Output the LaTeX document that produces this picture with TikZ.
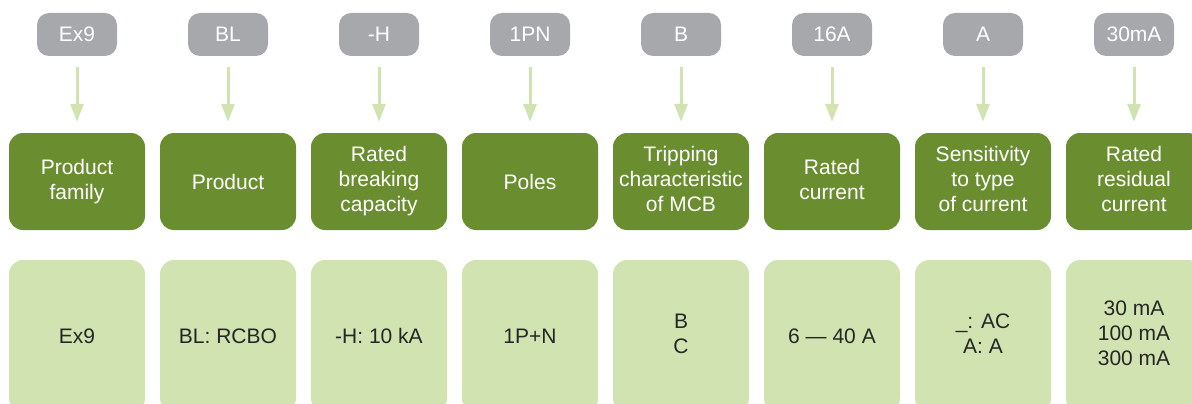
\documentclass[tikz,border=0pt]{standalone}
\usepackage{fontspec}
\setmainfont{Liberation Sans}
\usepackage{tikz}
\usetikzlibrary{arrows.meta,positioning}
\usepackage{xcolor}
\definecolor{codegray}{HTML}{A7A8AC}
\definecolor{headgreen}{HTML}{6A8E2F}
\definecolor{valgreen}{HTML}{D1E3B1}
\definecolor{txtdark}{HTML}{262626}
\newcommand\boxstrut{\rule[-5pt]{0pt}{25pt}}

\begin{document}
\begin{tikzpicture}[x=1pt, y=-1pt,
    every node/.style={font=\fontsize{21}{25}\selectfont, align=center, inner sep=0pt,
        execute at begin node=\boxstrut, execute at end node=\boxstrut},
    codebox/.style={fill=codegray, text=white, rounded corners=12pt, minimum width=80pt, minimum height=43pt},
    headbox/.style={fill=headgreen, text=white, rounded corners=14pt, minimum width=136pt, minimum height=97pt},
    valbox/.style={fill=valgreen, text=txtdark, rounded corners=14pt, minimum width=136pt, minimum height=152pt},
    feed/.style={-{Triangle[width=13pt, length=18pt]}, line width=3pt, draw=valgreen, shorten <=11pt, shorten >=11pt}]

    \clip (0,0) rectangle (1192,404);

    % Code parts
    \node[codebox] (famcode)  at (77,34.5)   {Ex9};
    \node[codebox] (prodcode) at (228,34.5)  {BL};
    \node[codebox] (brkcode)  at (379,34.5)  {-H};
    \node[codebox] (polcode)  at (530,34.5)  {1PN};
    \node[codebox] (tripcode) at (681,34.5)  {B};
    \node[codebox] (curcode)  at (832,34.5)  {16A};
    \node[codebox] (senscode) at (983,34.5)  {A};
    \node[codebox] (rescode)  at (1134,34.5) {30mA};

    % Meaning of each part
    \node[headbox] (famhead)  at (77,181.5)   {Product\\family};
    \node[headbox] (prodhead) at (228,181.5)  {Product};
    \node[headbox] (brkhead)  at (379,181.5)  {Rated\\breaking\\capacity};
    \node[headbox] (polhead)  at (530,181.5)  {Poles};
    \node[headbox] (triphead) at (681,181.5)  {Tripping\\characteristic\\of MCB};
    \node[headbox] (curhead)  at (832,181.5)  {Rated\\current};
    \node[headbox] (senshead) at (983,181.5)  {Sensitivity\\to type\\of current};
    \node[headbox] (reshead)  at (1134,181.5) {Rated\\residual\\current};

    % Possible values
    \node[valbox] (famval)  at (77,336)   {Ex9};
    \node[valbox] (prodval) at (228,336)  {BL: RCBO};
    \node[valbox] (brkval)  at (379,336)  {-H: 10 kA};
    \node[valbox] (polval)  at (530,336)  {1P+N};
    \node[valbox] (tripval) at (681,336)  {B\\C};
    \node[valbox] (curval)  at (832,336)  {6 — 40 A};
    \node[valbox] (sensval) at (983,336)  {\_: AC\\A: A};
    \node[valbox] (resval)  at (1134,336) {30 mA\\100 mA\\300 mA};

    % Arrows
    \draw[feed] (famcode) -- (famhead);
    \draw[feed] (prodcode) -- (prodhead);
    \draw[feed] (brkcode) -- (brkhead);
    \draw[feed] (polcode) -- (polhead);
    \draw[feed] (tripcode) -- (triphead);
    \draw[feed] (curcode) -- (curhead);
    \draw[feed] (senscode) -- (senshead);
    \draw[feed] (rescode) -- (reshead);

\end{tikzpicture}
\end{document}
